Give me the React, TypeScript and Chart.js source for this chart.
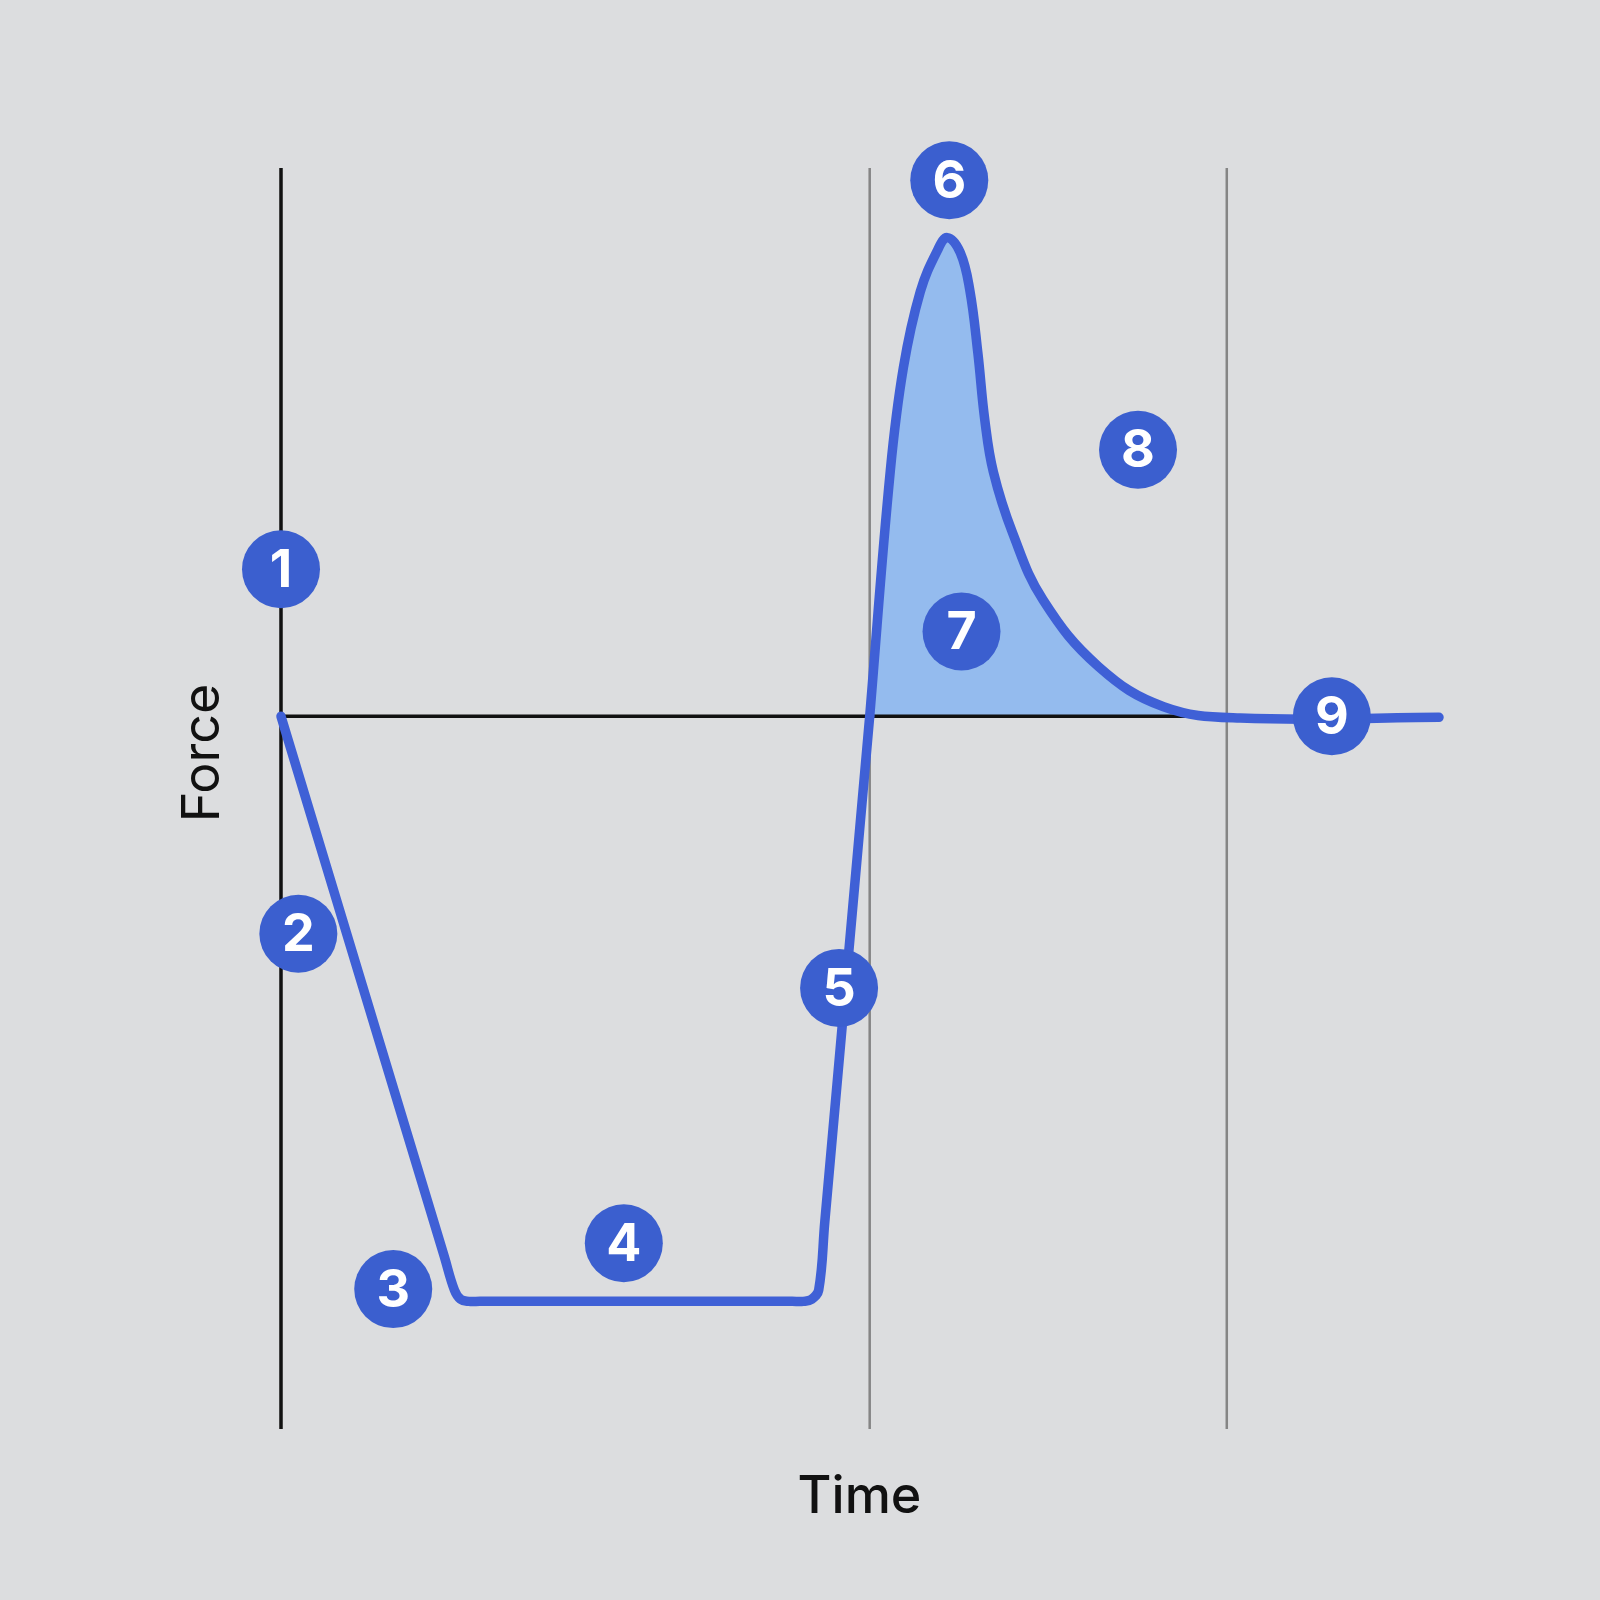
import React, { useEffect, useRef } from "react";
import { Chart, registerables } from "chart.js";

Chart.register(...registerables);

// Loading phase (straight segments with rounded corners): time (x) and force (y)
const loadTime = [0, 1.6, 1.7, 1.76, 1.84, 1.95, 5.01, 5.12, 5.2, 5.27, 5.33, 5.77];
const loadForce = [0, -5.29, -5.62, -5.71, -5.73, -5.73, -5.73, -5.73, -5.71, -5.62, -4.95, 0];

// Impulse phase (smooth peak and decay): time (x) and force (y)
const peakTime = [5.77, 5.972, 6.1, 6.266, 6.433, 6.531, 6.658, 6.751, 6.83, 6.898, 6.982, 7.171, 7.469, 8.014, 8.651, 9.402, 11.35];
const peakForce = [0, 2.404, 3.413, 4.159, 4.561, 4.688, 4.541, 4.175, 3.56, 2.904, 2.394, 1.795, 1.14, 0.486, 0.094, -0.017, -0.01];

// Numbered markers
const markerLabels = ["1", "2", "3", "4", "5", "6", "7", "8", "9"];
const markerTime = [0, 0.17, 1.1, 3.36, 5.47, 6.55, 6.67, 8.4, 10.3];
const markerForce = [1.44, -2.13, -5.61, -5.16, -2.66, 5.25, 0.83, 2.61, 0];

// Phase boundaries (vertical guide lines) and axis extents
const phaseLines = [5.77, 9.27];
const timeMin = 0;
const timeMax = 11.35;
const forceMin = -6.98;
const forceMax = 5.37;
const zeroLineEnd = 9.27;

const axisTitles = { x: "Time", y: "Force" };

const BLUE = "#3f60d6";

export default function App() {
  const canvasRef = useRef<HTMLCanvasElement | null>(null);

  useEffect(() => {
    const canvas = canvasRef.current;
    if (!canvas) return;

    const load = loadTime.map((t, i) => ({ x: t, y: loadForce[i] }));
    const peak = peakTime.map((t, i) => ({ x: t, y: peakForce[i] }));
    const markers = markerTime.map((t, i) => ({ x: t, y: markerForce[i] }));

    const labelPlugin = {
      id: "labels",
      afterDatasetsDraw(chart: any) {
        const ctx = chart.ctx;
        const meta = chart.getDatasetMeta(chart.data.datasets.length - 1);
        ctx.save();
        ctx.fillStyle = "#ffffff";
        ctx.font = "bold 52px Inter, 'Noto Sans', sans-serif";
        ctx.textAlign = "center";
        ctx.textBaseline = "middle";
        meta.data.forEach((el: any, i: number) => {
          ctx.fillText(markerLabels[i], el.x, el.y + 2);
        });
        ctx.restore();
      },
      afterDraw(chart: any) {
        const ctx = chart.ctx;
        const xs = chart.scales.x;
        const ys = chart.scales.y;
        const area = chart.chartArea;
        ctx.save();
        ctx.fillStyle = "#111111";
        ctx.textAlign = "center";
        ctx.textBaseline = "middle";
        ctx.font = "500 52px Inter, 'Noto Sans', sans-serif";
        ctx.fillText(axisTitles.x, xs.getPixelForValue(5.67), area.bottom + 68);
        ctx.translate(area.left - 78, ys.getPixelForValue(-0.36));
        ctx.rotate(-Math.PI / 2);
        ctx.font = "400 52px Inter, 'Noto Sans', sans-serif";
        ctx.fillText(axisTitles.y, 0, 0);
        ctx.restore();
      },
    };

    const vline = (t: number, color: string, width: number, order: number) => ({
      type: "line" as const,
      data: [
        { x: t, y: forceMax },
        { x: t, y: forceMin },
      ],
      borderColor: color,
      borderWidth: width,
      pointRadius: 0,
      fill: false,
      clip: false as any,
      order,
    });

    const chart = new Chart(canvas, {
      type: "scatter",
      data: {
        datasets: [
          // fill under positive impulse
          {
            type: "line",
            data: peak,
            borderWidth: 0,
            borderColor: "rgba(0,0,0,0)",
            pointRadius: 0,
            tension: 0.4,
            fill: { target: { value: 0 }, above: "#94bbee", below: "rgba(0,0,0,0)" },
            clip: false as any,
            order: 10,
          } as any,
          vline(phaseLines[0], "#858585", 2.5, 9),
          vline(phaseLines[1], "#858585", 2.5, 9),
          vline(0, "#111111", 3.5, 8),
          {
            type: "line",
            data: [
              { x: 0, y: 0 },
              { x: zeroLineEnd, y: 0 },
            ],
            borderColor: "#111111",
            borderWidth: 3.5,
            pointRadius: 0,
            fill: false,
            clip: false as any,
            order: 8,
          } as any,
          {
            type: "line",
            data: load,
            borderColor: BLUE,
            borderWidth: 9.5,
            borderCapStyle: "round",
            borderJoinStyle: "round",
            pointRadius: 0,
            tension: 0.4,
            fill: false,
            clip: false as any,
            order: 3,
          } as any,
          {
            type: "line",
            data: peak,
            borderColor: BLUE,
            borderWidth: 9.5,
            borderCapStyle: "round",
            borderJoinStyle: "round",
            pointRadius: 0,
            tension: 0.4,
            fill: false,
            clip: false as any,
            order: 2,
          } as any,
          {
            type: "scatter",
            data: markers,
            pointRadius: 39,
            pointHoverRadius: 39,
            pointBackgroundColor: "#3b5fcf",
            pointBorderWidth: 0,
            borderWidth: 0,
            clip: false as any,
            order: 1,
          } as any,
        ],
      },
      options: {
        animation: false,
        responsive: false,
        devicePixelRatio: 1,
        events: [],
        layout: { padding: { left: 281, right: 161, top: 168, bottom: 171 } },
        plugins: { legend: { display: false }, tooltip: { enabled: false } },
        scales: {
          x: { type: "linear", min: timeMin, max: timeMax, display: false },
          y: { type: "linear", min: forceMin, max: forceMax, display: false },
        },
      } as any,
      plugins: [labelPlugin],
    });

    return () => chart.destroy();
  }, []);

  return (
    <div
      style={{
        position: "fixed",
        left: 0,
        top: 0,
        width: 1600,
        height: 1600,
        background: "#dcdddf",
      }}
    >
      <canvas ref={canvasRef} width={1600} height={1600} style={{ width: 1600, height: 1600, display: "block" }} />
    </div>
  );
}
